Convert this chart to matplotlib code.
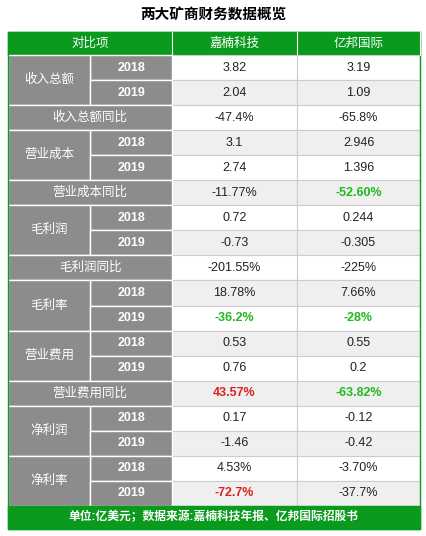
import matplotlib.pyplot as plt
from matplotlib.patches import Rectangle

plt.rcParams['font.family'] = ['Liberation Sans', 'Noto Sans CJK SC', 'DejaVu Sans']

title = '两大矿商财务数据概览'
headers = ['对比项', '嘉楠科技', '亿邦国际']
footer = '单位:亿美元；数据来源:嘉楠科技年报、亿邦国际招股书'

# (group label, year or None, col1, col2)
groups = ['收入总额', None, '收入总额同比', '营业成本', None, '营业成本同比',
          '毛利润', None, '毛利润同比', '毛利率', None, '营业费用', None,
          '营业费用同比', '净利润', None, '净利率', None]
years = ['2018', '2019', None, '2018', '2019', None, '2018', '2019', None,
         '2018', '2019', '2018', '2019', None, '2018', '2019', '2018', '2019']
jianan = ['3.82', '2.04', '-47.4%', '3.1', '2.74', '-11.77%', '0.72', '-0.73',
          '-201.55%', '18.78%', '-36.2%', '0.53', '0.76', '43.57%', '0.17',
          '-1.46', '4.53%', '-72.7%']
ebang = ['3.19', '1.09', '-65.8%', '2.946', '1.396', '-52.60%', '0.244', '-0.305',
         '-225%', '7.66%', '-28%', '0.55', '0.2', '-63.82%', '-0.12', '-0.42',
         '-3.70%', '-37.7%']
# highlighted cells: (row, col) -> colour
highlight = {(5, 2): '#22b822', (10, 1): '#22b822', (10, 2): '#22b822',
             (13, 1): '#e02020', (13, 2): '#22b822', (17, 1): '#e02020'}

W, H = 426, 536
fig = plt.figure(figsize=(W / 100, H / 100), dpi=100)
ax = fig.add_axes([0, 0, 1, 1])
ax.set_xlim(0, W)
ax.set_ylim(H, 0)
ax.axis('off')

green = '#0a9a1e'
gray = '#8c8c8c'
light = '#efefef'
x0, xg, xy, xc1, xc2, x1 = 8, 8, 90, 172, 297, 420
top, hh, rh = 32, 23, 25.05

ax.text(W / 2, 15, title, ha='center', va='center', fontsize=10.5, fontweight='bold')

# header
ax.add_patch(Rectangle((x0, top), x1 - x0, hh, color=green))
for xa, xb, t in [(xg, xc1, headers[0]), (xc1, xc2, headers[1]), (xc2, x1, headers[2])]:
    ax.text((xa + xb) / 2, top + hh / 2, t, ha='center', va='center', color='white', fontsize=9)
    ax.plot([xb, xb], [top, top + hh], color='white', lw=0.8)

y = top + hh
for i in range(len(years)):
    ry = y + i * rh
    bg = 'white' if i % 2 == 0 else light
    for xa, xb in [(xc1, xc2), (xc2, x1)]:
        ax.add_patch(Rectangle((xa, ry), xb - xa, rh, facecolor=bg, edgecolor='#cccccc', lw=0.8))
    for j, val in enumerate([jianan[i], ebang[i]]):
        xa, xb = [(xc1, xc2), (xc2, x1)][j]
        c = highlight.get((i, j + 1))
        ax.text((xa + xb) / 2, ry + rh / 2, val, ha='center', va='center', fontsize=9,
                color=c or '#222222', fontweight='bold' if c else 'normal')
    if years[i] is None:
        ax.add_patch(Rectangle((xg, ry), xc1 - xg, rh, facecolor=gray, edgecolor='white', lw=1))
        ax.text((xg + xc1) / 2, ry + rh / 2, groups[i], ha='center', va='center', color='white', fontsize=9)
    else:
        ax.add_patch(Rectangle((xy, ry), xc1 - xy, rh, facecolor=gray, edgecolor='white', lw=1))
        ax.text((xy + xc1) / 2, ry + rh / 2, years[i], ha='center', va='center', color='white',
                fontsize=9, fontweight='bold')
        if groups[i] is not None:
            ax.add_patch(Rectangle((xg, ry), xy - xg, 2 * rh, facecolor=gray, edgecolor='white', lw=1))
            ax.text((xg + xy) / 2, ry + rh, groups[i], ha='center', va='center', color='white', fontsize=9)

yb = y + len(years) * rh
ax.add_patch(Rectangle((x0, yb), x1 - x0, 23, color=green))
ax.text(W / 2, yb + 11.5, footer, ha='center', va='center', color='white', fontsize=8.5,
        fontweight='bold')
ax.add_patch(Rectangle((x0, top), x1 - x0, yb + 23 - top, fill=False, edgecolor=green, lw=1))

fig.savefig('out.png', dpi=100)
